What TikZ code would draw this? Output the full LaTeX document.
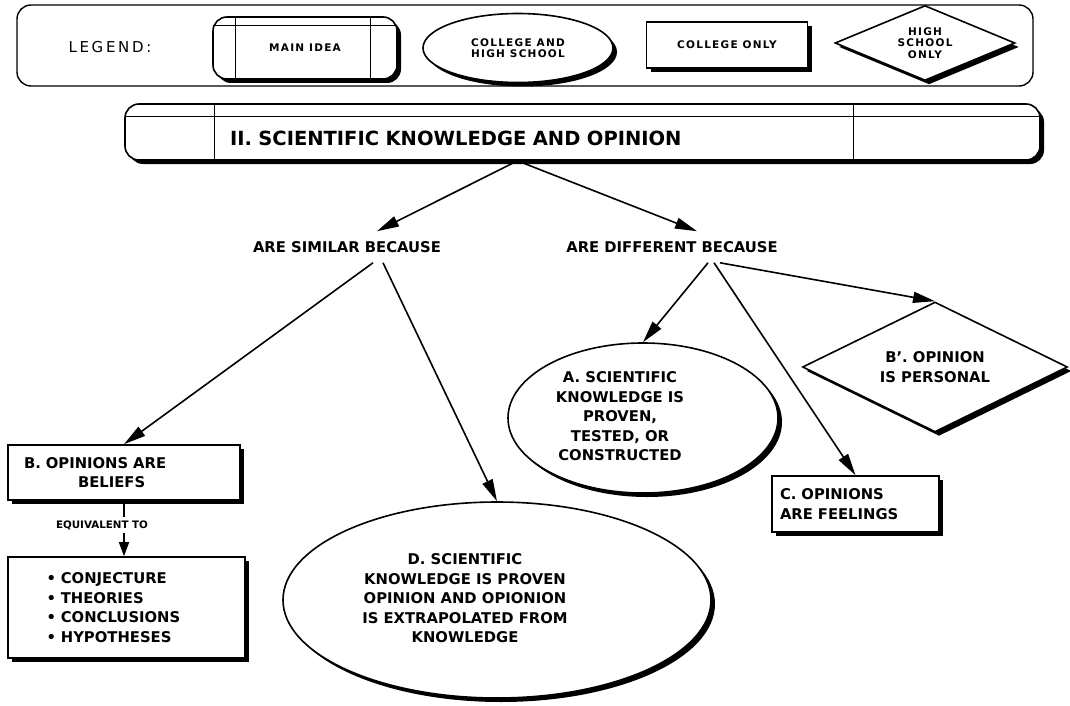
\documentclass[tikz,border=0pt]{standalone}
\usepackage{fontspec}
\setmainfont{DejaVu Sans}
\newfontfamily\legendfont[LetterSpace=12]{DejaVu Sans}
\newfontfamily\legendwide[LetterSpace=18]{DejaVu Sans}
\usetikzlibrary{shapes.geometric,shadows,arrows.meta}

\begin{document}
\begin{tikzpicture}[x=1pt,y=-1pt,
    box/.style={draw,line width=1.6pt,fill=white,
        general shadow={shadow xshift=4pt,shadow yshift=-4pt,fill=black}},
    mainidea/.style={box,rectangle,rounded corners=14pt},
    both/.style={box,ellipse},
    college/.style={box,rectangle},
    highschool/.style={box,diamond,aspect=2,inner sep=2pt},
    txt/.style={font=\fontsize{14.8}{19.5}\selectfont\bfseries},
    legtxt/.style={font=\legendfont\fontsize{10.5}{11.5}\selectfont\bfseries,align=center},
    link/.style={-{Triangle[length=22pt,width=11pt]},line width=1.6pt}]
\useasboundingbox (0,0) rectangle (1070,706);
%%%% Legend row
    \node[draw,line width=1.4pt,rounded corners=14pt,minimum width=1016pt,minimum height=81pt] (legend) at (525,45.5) {};
    \node[font=\legendwide\fontsize{15}{16}\selectfont] (legendlbl) at (110,47) {LEGEND:};
    \node[mainidea,legtxt,minimum width=184pt,minimum height=62pt] (legmain) at (305,48) {MAIN IDEA};
    \draw[line width=0.8pt] ([xshift=23pt]legmain.north west) -- ([xshift=23pt]legmain.south west);
    \draw[line width=0.8pt] ([xshift=-27pt]legmain.north east) -- ([xshift=-27pt]legmain.south east);
    \draw[line width=0.8pt] ([xshift=1pt,yshift=-9pt]legmain.north west) -- ([xshift=-1pt,yshift=-9pt]legmain.north east);
    \node[both,legtxt,minimum width=190pt,minimum height=69pt] (legboth) at (518,48) {COLLEGE AND\\HIGH SCHOOL};
    \node[college,legtxt,minimum width=161pt,minimum height=46pt] (legcoll) at (727,45) {COLLEGE ONLY};
    \node[highschool,legtxt,minimum width=180pt,minimum height=75pt] (leghigh) at (925,43) {HIGH\\SCHOOL\\ONLY};
%%%% Main idea bar
    \node[mainidea,font=\fontsize{19.5}{22}\selectfont\bfseries,text width=895pt,align=left,
        text height=27pt,text depth=0pt,minimum width=915pt,minimum height=56pt] (title) at (582.5,132)
        {\hspace*{95pt}II. SCIENTIFIC KNOWLEDGE AND OPINION};
    \draw[line width=1pt] ([xshift=90pt]title.north west) -- ([xshift=90pt]title.south west);
    \draw[line width=1pt] ([xshift=-187pt]title.north east) -- ([xshift=-187pt]title.south east);
    \draw[line width=1pt] ([xshift=1pt,yshift=-13pt]title.north west) -- ([xshift=-1pt,yshift=-13pt]title.north east);
%%%% Linking words
    \node[txt,inner ysep=10pt] (similar) at (347,247) {ARE SIMILAR BECAUSE};
    \node[txt,inner ysep=10pt] (different) at (672,247) {ARE DIFFERENT BECAUSE};
%%%% Concepts
    \node[college,txt,minimum width=232pt,minimum height=55pt,text width=200pt,align=left] (beliefs) at (124,472.5)
        {B. OPINIONS ARE\\\hspace*{54pt}BELIEFS};
    \node[txt,font=\fontsize{10.3}{12}\selectfont\bfseries] (equiv) at (102,525) {EQUIVALENT TO};
    \node[college,txt,minimum width=237pt,minimum height=101pt,text width=160pt,align=left] (list) at (126.5,607.5)
        {• CONJECTURE\\• THEORIES\\• CONCLUSIONS\\• HYPOTHESES};
    \node[both,txt,minimum width=428pt,minimum height=196pt] (proven) at (497,600)
        {\begin{tabular}{@{}c@{}}D. SCIENTIFIC\\KNOWLEDGE IS PROVEN\\OPINION AND OPIONION\\IS EXTRAPOLATED FROM\\KNOWLEDGE\end{tabular}\hspace*{64pt}};
    \node[both,txt,minimum width=270pt,minimum height=150pt] (tested) at (643,418)
        {\begin{tabular}{@{}c@{}}A. SCIENTIFIC\\KNOWLEDGE IS\\PROVEN,\\TESTED, OR\\CONSTRUCTED\end{tabular}\hspace*{46pt}};
    \node[college,txt,minimum width=167pt,minimum height=56pt,text width=151pt,align=left] (feelings) at (855.5,504)
        {C. OPINIONS\\ARE FEELINGS};
    \node[highschool,txt,minimum width=265pt,minimum height=130pt,align=center] (personal) at (935,367)
        {B'. OPINION\\IS PERSONAL};
%%%% Add arrows between nodes
    \draw[link] ([xshift=-65pt]title.south) -- ([xshift=30pt]similar.north);
    \draw[link] ([xshift=-65pt]title.south) -- ([xshift=25pt]different.north);
    \draw[link] ([xshift=26pt]similar.south) -- (beliefs.north);
    \draw[link] ([xshift=36pt]similar.south) -- (proven.north);
    \draw[link] ([xshift=36pt]different.south) -- (tested.north);
    \draw[link] ([xshift=42pt]different.south) -- (feelings.north);
    \draw[link] ([xshift=48pt]different.south) -- (personal.north);
    \draw[line width=1.5pt] (beliefs.south) -- (beliefs.south |- equiv.north);
    \draw[link,-{Triangle[length=14pt,width=10pt]}] (beliefs.south |- equiv.south) -- (beliefs.south |- list.north);
\end{tikzpicture}
\end{document}
